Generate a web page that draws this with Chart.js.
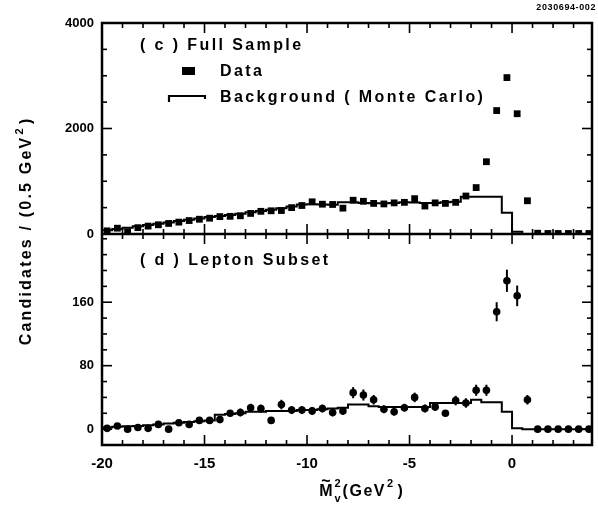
<!DOCTYPE html>
<html>
<head>
<meta charset="utf-8">
<script src="https://cdn.jsdelivr.net/npm/chart.js@4.4.1/dist/chart.umd.min.js"></script>
<style>
  html, body { margin: 0; padding: 0; background: #fff; }
  #wrap { width: 598px; height: 508px; position: relative; }
</style>
</head>
<body>
<div id="wrap"><canvas id="chart" width="598" height="508"></canvas></div>
<script>
// Bin centres of the missing-mass-squared histogram (0.5 GeV^2 bins)
const binCenters = [
  -19.75, -19.25, -18.75, -18.25, -17.75, -17.25, -16.75, -16.25,
  -15.75, -15.25, -14.75, -14.25, -13.75, -13.25, -12.75, -12.25,
  -11.75, -11.25, -10.75, -10.25, -9.75, -9.25, -8.75, -8.25,
  -7.75, -7.25, -6.75, -6.25, -5.75, -5.25, -4.75, -4.25,
  -3.75, -3.25, -2.75, -2.25, -1.75, -1.25, -0.75, -0.25,
  0.25, 0.75, 1.25, 1.75, 2.25, 2.75, 3.25, 3.75
];

// (c) Full sample: candidates per bin
const fullData = [
  60, 110, 40, 120, 150, 175, 200, 225,
  255, 280, 300, 330, 335, 345, 390, 430,
  440, 445, 500, 540, 610, 565, 560, 490,
  640, 620, 580, 570, 590, 600, 670, 530,
  590, 580, 600, 720, 880, 1370, 2340, 2965,
  2280, 630, 15, 10, 10, 10, 10, 10
];

// (c) Full sample: Monte Carlo background
const fullBackground = [
  45, 70, 95, 120, 145, 170, 195, 220,
  245, 270, 295, 320, 340, 360, 385, 410,
  435, 460, 490, 520, 560, 565, 560, 555,
  600, 600, 590, 585, 585, 590, 600, 595,
  590, 590, 600, 610, 705, 705, 705, 705,
  405, 45, 0, 0, 0, 0, 0, 0
];

// (d) Lepton subset: candidates per bin and their error bars
const leptonData = [
  1, 4, 0, 2, 1, 6, 0, 8,
  6, 11, 11, 12, 20, 21, 27, 26,
  11, 31, 24, 24, 23, 26, 21, 23,
  46, 43, 37, 25, 22, 27, 40, 26,
  28, 20, 36, 33, 49, 49, 148, 187,
  168, 37, 0, 0, 0, 0, 0, 0
];
const leptonErrors = [
  1, 2, 0, 1, 1, 2, 0, 3,
  2, 3, 3, 3, 4, 5, 5, 5,
  3, 6, 5, 5, 5, 5, 5, 5,
  7, 7, 6, 5, 5, 5, 6, 5,
  5, 4, 6, 6, 7, 7, 12, 14,
  13, 6, 0, 0, 0, 0, 0, 0
];

// (d) Lepton subset: Monte Carlo background
const leptonBackground = [
  1, 2, 3, 3.5, 4, 5, 6, 7,
  8, 9, 10, 11, 18, 19, 20, 22,
  22, 23, 23, 23, 24, 24, 25, 26,
  27, 31, 31, 29, 28, 28, 28, 28,
  28, 33, 33, 33, 33, 37, 34, 34,
  22, 1, 0, 0, 0, 0, 0, 0
];

// Axis limits and tick labels
const xRange = [-20, 3.9];
const xTicks = [-20, -15, -10, -5, 0];
const xMinorStep = 1;
const fullRange = [0, 4000];
const fullTicks = [0, 2000, 4000];
const fullMinorStep = 500;
const leptonRange = [-20, 246];
const leptonTicks = [0, 80, 160];
const leptonMinorStep = 20;

const FONT = '"Liberation Sans", Arial, Helvetica, sans-serif';

// Histogram outline: one point per bin edge, drawn as steps
function histogramPoints(values) {
  const half = (binCenters[1] - binCenters[0]) / 2;
  const pts = binCenters.map((c, i) => ({ x: c - half, y: values[i] }));
  pts.push({ x: binCenters[binCenters.length - 1] + half, y: values[values.length - 1] });
  return pts;
}
function markerPoints(values) {
  return binCenters.map((c, i) => ({ x: c, y: values[i] }));
}

function line(ctx, x1, y1, x2, y2) {
  ctx.beginPath(); ctx.moveTo(x1, y1); ctx.lineTo(x2, y2); ctx.stroke();
}

function spacedText(ctx, text, x, y, font, spacing, align) {
  ctx.font = font;
  ctx.letterSpacing = spacing + 'px';
  ctx.textAlign = align || 'left';
  ctx.fillText(text, x, y);
  const w = ctx.measureText(text).width;
  ctx.letterSpacing = '0px';
  return w;
}

const decorations = {
  id: 'decorations',
  afterDatasetsDraw(chart) {
    const ctx = chart.ctx;
    const xs = chart.scales.x, yb = chart.scales.yBot;
    ctx.save();
    ctx.strokeStyle = '#000';
    ctx.lineWidth = 2;
    binCenters.forEach((c, i) => {
      const e = leptonErrors[i];
      if (!e) return;
      const px = xs.getPixelForValue(c);
      line(ctx, px, yb.getPixelForValue(leptonData[i] - e), px, yb.getPixelForValue(leptonData[i] + e));
    });
    ctx.restore();
  },
  afterDraw(chart) {
    const ctx = chart.ctx;
    const { left, right, top, bottom } = chart.chartArea;
    const xs = chart.scales.x, yt = chart.scales.yTop, yb = chart.scales.yBot;
    const mid = yt.bottom;
    ctx.save();
    ctx.strokeStyle = '#000';
    ctx.fillStyle = '#000';

    // frames
    ctx.lineWidth = 2.5;
    ctx.strokeRect(left, top, right - left, bottom - top);
    line(ctx, left, mid, right, mid);

    // x tick marks on every horizontal edge
    ctx.lineWidth = 1.6;
    for (let v = xRange[0]; v <= xRange[1]; v += xMinorStep) {
      const px = xs.getPixelForValue(v);
      const len = v % 5 === 0 ? 10 : 5;
      line(ctx, px, bottom, px, bottom - len);
      line(ctx, px, top, px, top + len);
      line(ctx, px, mid - len, px, mid + len);
    }
    // y tick marks, both panels, both sides
    for (let v = fullRange[0]; v <= fullRange[1]; v += fullMinorStep) {
      const py = yt.getPixelForValue(v);
      const len = fullTicks.includes(v) ? 10 : 5;
      line(ctx, left, py, left + len, py);
      line(ctx, right - len, py, right, py);
    }
    for (let v = leptonRange[0]; v <= leptonRange[1]; v += leptonMinorStep) {
      const py = yb.getPixelForValue(v);
      const len = leptonTicks.includes(v) ? 10 : 5;
      line(ctx, left, py, left + len, py);
      line(ctx, right - len, py, right, py);
    }

    // panel captions and legend
    ctx.textBaseline = 'middle';
    const big = 'bold 16px ' + FONT;
    spacedText(ctx, '( c ) Full Sample', 140, 46, big, 2.4);
    spacedText(ctx, '( d ) Lepton Subset', 140, 261, big, 2.4);
    ctx.fillRect(182, 67, 13, 8);
    spacedText(ctx, 'Data', 220, 72, big, 2.4);
    ctx.lineWidth = 2.2;
    ctx.beginPath();
    ctx.moveTo(169, 102); ctx.lineTo(169, 96); ctx.lineTo(205, 96); ctx.lineTo(205, 99);
    ctx.stroke();
    spacedText(ctx, 'Background ( Monte Carlo)', 220, 98, big, 2.4);

    // figure id
    spacedText(ctx, '2030694-002', 596, 8, 'bold 9px ' + FONT, 0.6, 'right');

    // x axis title: M~_v^2 (GeV^2)
    ctx.textBaseline = 'alphabetic';
    const small = 'bold 11px ' + FONT;
    ctx.font = big;
    const wM = ctx.measureText('M').width;
    ctx.font = small;
    const wSub = Math.max(ctx.measureText('v').width, ctx.measureText('2').width);
    ctx.font = big; ctx.letterSpacing = '1.5px';
    const wGeV = ctx.measureText('(GeV').width;
    ctx.letterSpacing = '0px';
    ctx.font = small;
    const w2 = ctx.measureText('2').width;
    ctx.font = big;
    const wP = ctx.measureText(' )').width;
    const total = wM + 2 + wSub + 2 + wGeV + 1 + w2 + wP;
    let x = 361 - total / 2;
    const base = 496;
    ctx.textAlign = 'left';
    ctx.font = big; ctx.fillText('M', x, base);
    ctx.fillText('~', x + wM / 2 - 4.5, base - 10);
    x += wM + 2;
    ctx.font = small;
    ctx.fillText('2', x, base - 9);
    ctx.fillText('v', x, base + 6);
    x += wSub + 2;
    spacedText(ctx, '(GeV', x, base, big, 1.5);
    x += wGeV + 1;
    ctx.font = small; ctx.fillText('2', x, base - 9);
    x += w2;
    ctx.font = big; ctx.fillText(' )', x, base);

    // y axis title, rotated
    const yFont = 'bold 16px ' + FONT;
    ctx.save();
    ctx.translate(31, 232);
    ctx.rotate(-Math.PI / 2);
    ctx.font = yFont;
    ctx.letterSpacing = '2.2px';
    const t1 = 'Candidates / (0.5 GeV';
    const wt1 = ctx.measureText(t1).width;
    ctx.letterSpacing = '0px';
    ctx.font = small;
    const wt2 = ctx.measureText('2').width;
    ctx.font = yFont;
    const wt3 = ctx.measureText(' )').width;
    let tx = -(wt1 + wt2 + wt3 + 1) / 2;
    spacedText(ctx, t1, tx, 0, yFont, 2.2);
    tx += wt1 + 1;
    ctx.font = small; ctx.fillText('2', tx, -8);
    tx += wt2;
    ctx.font = yFont; ctx.fillText(' )', tx, 0);
    ctx.restore();

    ctx.restore();
  }
};

const tickFont = (size) => ({ family: FONT, size: size, weight: 'bold' });
const plainLabel = (v) => String(v);

new Chart(document.getElementById('chart'), {
  type: 'scatter',
  data: {
    datasets: [
      {
        type: 'line', label: 'Background (Monte Carlo)', yAxisID: 'yTop',
        data: histogramPoints(fullBackground), stepped: 'after',
        borderColor: '#000', borderWidth: 2, pointRadius: 0, fill: false
      },
      {
        label: 'Data', yAxisID: 'yTop', data: markerPoints(fullData),
        pointStyle: 'rect', pointRadius: 4.8, backgroundColor: '#000',
        borderColor: '#000', borderWidth: 0
      },
      {
        type: 'line', label: 'Background (Monte Carlo)', yAxisID: 'yBot',
        data: histogramPoints(leptonBackground), stepped: 'after',
        borderColor: '#000', borderWidth: 2, pointRadius: 0, fill: false
      },
      {
        label: 'Data', yAxisID: 'yBot', data: markerPoints(leptonData),
        pointStyle: 'circle', pointRadius: 3.8, backgroundColor: '#000',
        borderColor: '#000', borderWidth: 0
      }
    ]
  },
  options: {
    responsive: false,
    maintainAspectRatio: false,
    animation: false,
    devicePixelRatio: 1,
    layout: { padding: { left: 0, top: 23, right: 6, bottom: 0 } },
    plugins: { legend: { display: false }, tooltip: { enabled: false } },
    scales: {
      x: {
        type: 'linear', position: 'bottom', min: xRange[0], max: xRange[1],
        grid: { display: false, drawTicks: false }, border: { display: false },
        ticks: { font: tickFont(15), color: '#000', padding: 10, maxRotation: 0, autoSkip: false, callback: plainLabel },
        afterBuildTicks: (s) => { s.ticks = xTicks.map(v => ({ value: v })); },
        afterFit: (s) => { s.height = 63; }
      },
      yBot: {
        type: 'linear', position: 'left', stack: 'panels', stackWeight: 1,
        min: leptonRange[0], max: leptonRange[1],
        grid: { display: false, drawTicks: false }, border: { display: false },
        ticks: { font: tickFont(13), color: '#000', padding: 8, callback: plainLabel },
        afterBuildTicks: (s) => { s.ticks = leptonTicks.map(v => ({ value: v })); },
        afterFit: (s) => { s.width = 102; }
      },
      yTop: {
        type: 'linear', position: 'left', stack: 'panels', stackWeight: 1,
        min: fullRange[0], max: fullRange[1],
        grid: { display: false, drawTicks: false }, border: { display: false },
        ticks: { font: tickFont(13), color: '#000', padding: 8, callback: plainLabel },
        afterBuildTicks: (s) => { s.ticks = fullTicks.map(v => ({ value: v })); },
        afterFit: (s) => { s.width = 102; }
      }
    }
  },
  plugins: [decorations]
});
</script>
</body>
</html>
